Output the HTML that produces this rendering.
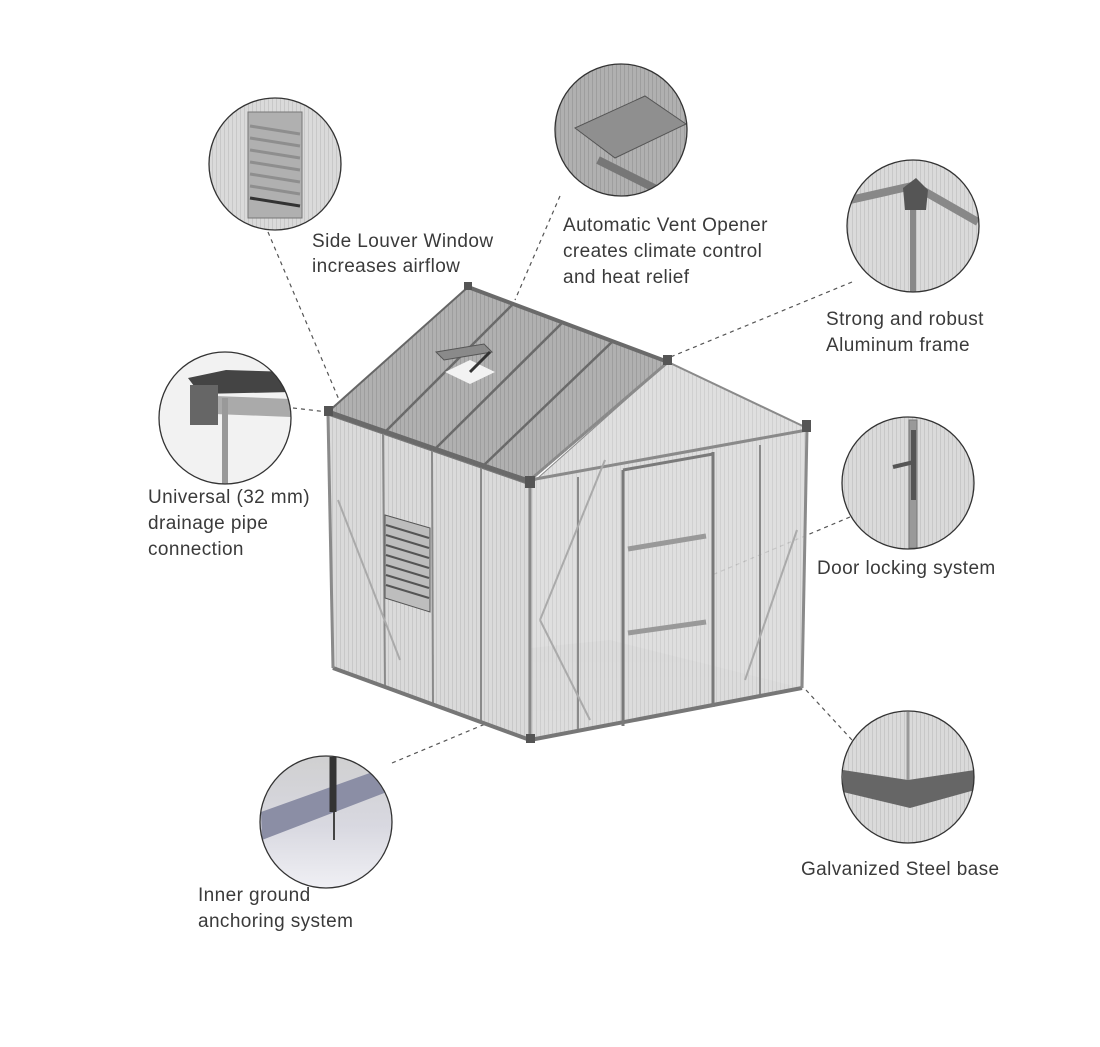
<!DOCTYPE html>
<html><head><meta charset="utf-8"><style>
html,body{margin:0;padding:0;background:#fff;}
svg{display:block;}
text{font-family:"Liberation Sans",sans-serif;font-size:19px;fill:#3a3a3a;letter-spacing:0.4px;}
</style></head><body>
<svg width="1100" height="1047" viewBox="0 0 1100 1047" xmlns="http://www.w3.org/2000/svg">
<defs>
<pattern id="rib" width="4" height="4" patternUnits="userSpaceOnUse"><rect width="4" height="4" fill="#dadada"/><rect width="1" height="4" fill="#c8c8c8"/></pattern>
<pattern id="ribd" width="4" height="4" patternUnits="userSpaceOnUse"><rect width="4" height="4" fill="#b0b0b0"/><rect width="1" height="4" fill="#9e9e9e"/></pattern>
<linearGradient id="floor" x1="0" y1="0" x2="0" y2="1"><stop offset="0" stop-color="#e4e4e4"/><stop offset="1" stop-color="#f3f3f3"/></linearGradient>
<linearGradient id="anch" x1="0" y1="0" x2="0" y2="1"><stop offset="0" stop-color="#cfcfcf"/><stop offset="0.5" stop-color="#d8d8e0"/><stop offset="1" stop-color="#f4f4f8"/></linearGradient>
<clipPath id="c1"><circle cx="275" cy="164" r="66"/></clipPath>
<clipPath id="c2"><circle cx="621" cy="130" r="66"/></clipPath>
<clipPath id="c3"><circle cx="913" cy="226" r="66"/></clipPath>
<clipPath id="c4"><circle cx="225" cy="418" r="66"/></clipPath>
<clipPath id="c5"><circle cx="908" cy="483" r="66"/></clipPath>
<clipPath id="c6"><circle cx="326" cy="822" r="66"/></clipPath>
<clipPath id="c7"><circle cx="908" cy="777" r="66"/></clipPath>
</defs>

<g stroke="#555" stroke-width="1.2" stroke-dasharray="4,4" fill="none">
<line x1="268" y1="232" x2="392" y2="525"/>
<line x1="560" y1="196" x2="515" y2="300"/>
<line x1="852" y1="282" x2="668" y2="358"/>
<line x1="293" y1="408" x2="328" y2="412"/>
<line x1="850" y1="517" x2="712" y2="575"/>
<line x1="392" y1="763" x2="490" y2="722"/>
<line x1="852" y1="740" x2="806" y2="690"/>
</g>

<g stroke="#777" stroke-width="1">
<polygon points="333,668 530,740 802,688 610,640" fill="url(#floor)" stroke="none"/>
<polygon points="328,415 530,485 530,740 333,668" fill="url(#rib)"/>
<polygon points="530,485 668,362 807,428 802,688 530,740" fill="url(#rib)" opacity="0.85"/>
<polygon points="468,287 668,362 530,480 328,412" fill="url(#ribd)" stroke="#666" stroke-width="2"/>
</g>
<g stroke="#6a6a6a" stroke-width="2.5">
<line x1="513" y1="304" x2="385" y2="432"/>
<line x1="563" y1="322" x2="435" y2="449"/>
<line x1="613" y1="341" x2="484" y2="465"/>
<line x1="468" y1="287" x2="668" y2="362" stroke-width="4"/>
<line x1="328" y1="412" x2="530" y2="482" stroke-width="5"/>
</g>
<polygon points="445,372 470,360 495,372 470,384" fill="#f2f2f2"/>
<polygon points="436,352 484,344 492,352 444,360" fill="#8a8a8a" stroke="#555"/>
<line x1="470" y1="372" x2="490" y2="352" stroke="#333" stroke-width="3"/>
<g stroke="#8a8a8a" stroke-width="2" fill="none">
<line x1="383" y1="434" x2="385" y2="688"/>
<line x1="432" y1="451" x2="433" y2="706"/>
<line x1="481" y1="468" x2="481" y2="722"/>
<line x1="530" y1="485" x2="530" y2="740" stroke-width="3"/>
<line x1="578" y1="477" x2="578" y2="731"/>
<line x1="760" y1="445" x2="760" y2="697"/>
<line x1="530" y1="480" x2="807" y2="430" stroke-width="3"/>
<line x1="530" y1="480" x2="668" y2="362" stroke-width="3"/>
<line x1="668" y1="362" x2="807" y2="428" stroke-width="2"/>
<line x1="333" y1="668" x2="530" y2="740" stroke-width="4" stroke="#777"/>
<line x1="530" y1="740" x2="802" y2="688" stroke-width="4" stroke="#777"/>
<line x1="807" y1="428" x2="802" y2="688" stroke-width="3"/>
<line x1="328" y1="415" x2="333" y2="668" stroke-width="3"/>
<line x1="338" y1="500" x2="400" y2="660" stroke="#aaa"/>
<line x1="540" y1="620" x2="590" y2="720" stroke="#aaa"/>
<line x1="605" y1="460" x2="540" y2="620" stroke="#aaa"/>
<line x1="797" y1="530" x2="745" y2="680" stroke="#aaa"/>
</g>
<g fill="none" stroke="#7a7a7a" stroke-width="3">
<line x1="623" y1="470" x2="623" y2="726"/>
<line x1="713" y1="452" x2="713" y2="707"/>
<line x1="623" y1="470" x2="713" y2="454"/>
<line x1="628" y1="549" x2="706" y2="536" stroke-width="5" stroke="#999"/>
<line x1="628" y1="633" x2="706" y2="622" stroke-width="5" stroke="#999"/>
</g>
<g>
<polygon points="385,515 430,528 430,612 385,598" fill="#bdbdbd" stroke="#555"/>
<g stroke="#555" stroke-width="2">
<line x1="386" y1="525" x2="429" y2="538"/><line x1="386" y1="535" x2="429" y2="548"/>
<line x1="386" y1="545" x2="429" y2="558"/><line x1="386" y1="555" x2="429" y2="568"/>
<line x1="386" y1="565" x2="429" y2="578"/><line x1="386" y1="575" x2="429" y2="588"/>
<line x1="386" y1="585" x2="429" y2="598"/>
</g></g>
<g fill="#555"><rect x="324" y="406" width="9" height="10"/><rect x="525" y="476" width="10" height="12"/><rect x="663" y="355" width="9" height="10"/><rect x="802" y="420" width="9" height="12"/><rect x="464" y="282" width="8" height="8"/><rect x="526" y="734" width="9" height="9"/></g>

<g clip-path="url(#c1)">
<rect x="200" y="90" width="150" height="150" fill="url(#rib)"/>
<rect x="248" y="112" width="54" height="106" fill="#b0b0b0" stroke="#777"/>
<g stroke="#8e8e8e" stroke-width="3"><line x1="250" y1="126" x2="300" y2="134"/><line x1="250" y1="138" x2="300" y2="146"/><line x1="250" y1="150" x2="300" y2="158"/><line x1="250" y1="162" x2="300" y2="170"/><line x1="250" y1="174" x2="300" y2="182"/><line x1="250" y1="186" x2="300" y2="194"/><line x1="250" y1="198" x2="300" y2="206" stroke="#333"/></g>
</g>
<g clip-path="url(#c2)">
<rect x="550" y="60" width="150" height="150" fill="url(#ribd)"/>
<polygon points="575,128 645,96 686,124 615,158" fill="#8f8f8f" stroke="#555"/>
<line x1="598" y1="160" x2="662" y2="192" stroke="#777" stroke-width="8"/>
</g>
<g clip-path="url(#c3)">
<rect x="840" y="155" width="150" height="150" fill="url(#rib)"/>
<line x1="850" y1="200" x2="912" y2="186" stroke="#888" stroke-width="8"/>
<line x1="915" y1="186" x2="978" y2="222" stroke="#888" stroke-width="8"/>
<line x1="913" y1="200" x2="913" y2="292" stroke="#888" stroke-width="6"/>
<polygon points="903,188 916,178 928,190 926,210 905,210" fill="#555"/>
</g>
<g clip-path="url(#c4)">
<rect x="155" y="350" width="150" height="150" fill="#f2f2f2"/>
<polygon points="188,378 226,370 292,372 292,392 200,394" fill="#444"/>
<line x1="215" y1="405" x2="292" y2="408" stroke="#aaa" stroke-width="18"/>
<rect x="190" y="385" width="28" height="40" fill="#666"/>
<line x1="225" y1="398" x2="225" y2="484" stroke="#999" stroke-width="6"/>
</g>
<g clip-path="url(#c5)">
<rect x="840" y="415" width="150" height="150" fill="url(#rib)"/>
<rect x="909" y="420" width="8" height="128" fill="#999" stroke="#777"/>
<rect x="911" y="430" width="5" height="70" fill="#555"/>
<line x1="893" y1="467" x2="914" y2="462" stroke="#555" stroke-width="4"/>
</g>
<g clip-path="url(#c6)">
<rect x="255" y="750" width="150" height="150" fill="url(#anch)"/>
<polygon points="261,812 392,765 392,790 262,840" fill="#8b8ea5"/>
<line x1="333" y1="757" x2="333" y2="812" stroke="#333" stroke-width="7"/>
<line x1="334" y1="812" x2="334" y2="840" stroke="#444" stroke-width="2"/>
</g>
<g clip-path="url(#c7)">
<rect x="840" y="710" width="150" height="150" fill="url(#rib)"/>
<polygon points="843,770 908,780 975,770 975,790 910,808 843,792" fill="#666"/>
<line x1="908" y1="712" x2="908" y2="780" stroke="#999" stroke-width="3"/>
</g>
<g fill="none" stroke="#333" stroke-width="1.3">
<circle cx="275" cy="164" r="66"/><circle cx="621" cy="130" r="66"/><circle cx="913" cy="226" r="66"/>
<circle cx="225" cy="418" r="66"/><circle cx="908" cy="483" r="66"/><circle cx="326" cy="822" r="66"/><circle cx="908" cy="777" r="66"/>
</g>

<text x="312" y="247">Side Louver Window</text>
<text x="312" y="272">increases airflow</text>
<text x="563" y="231">Automatic Vent Opener</text>
<text x="563" y="257">creates climate control</text>
<text x="563" y="283">and heat relief</text>
<text x="826" y="325">Strong and robust</text>
<text x="826" y="351">Aluminum frame</text>
<text x="148" y="503">Universal (32 mm)</text>
<text x="148" y="529">drainage pipe</text>
<text x="148" y="555">connection</text>
<text x="817" y="574">Door locking system</text>
<text x="198" y="901">Inner ground</text>
<text x="198" y="927">anchoring system</text>
<text x="801" y="875">Galvanized Steel base</text>
</svg>
</body></html>
